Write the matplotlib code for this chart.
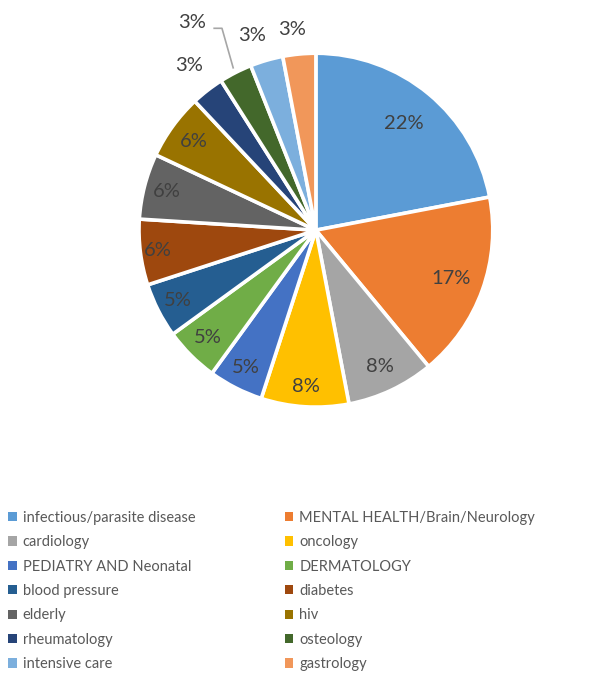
import numpy as np
import matplotlib.pyplot as plt
from matplotlib.patches import Patch

plt.rcParams['font.family'] = ['Lato', 'DejaVu Sans']

categories = [
    "infectious/parasite disease", "MENTAL HEALTH/Brain/Neurology",
    "cardiology", "oncology",
    "PEDIATRY AND Neonatal", "DERMATOLOGY",
    "blood pressure", "diabetes",
    "elderly", "hiv",
    "rheumatology", "osteology",
    "intensive care", "gastrology",
]
shares = [22, 17, 8, 8, 5, 5, 5, 6, 6, 6, 3, 3, 3, 3]
colors = [
    "#5B9BD5", "#ED7D31", "#A5A5A5", "#FFC000", "#4472C4", "#70AD47",
    "#255E91", "#9E480E", "#636363", "#997300", "#264478", "#43682B",
    "#7CAFDD", "#F1975A",
]

fig = plt.figure(figsize=(6.11, 6.74), dpi=100)
ax = fig.add_axes([0.2275, 0.396, 0.579, 0.525])
wedges, _ = ax.pie(shares, colors=colors, startangle=90, counterclock=False,
                   radius=1.0, wedgeprops=dict(edgecolor="white", linewidth=2.6))
ax.set_xlim(-1, 1)
ax.set_ylim(-1, 1)
ax.set_aspect("auto")
ax.axis("off")

label_color = "#404040"
# labels sit near the inner end of each wedge; narrow wedges push them outward
label_r = [0.78, 0.81, 0.85, 0.885, 0.87, 0.86, 0.875, 0.90, 0.87, 0.85]
# small slices at the top get their labels pulled outside the pie
outside = {10: (-0.717, 0.932), 11: (-0.70, 1.175), 12: (-0.36, 1.10), 13: (-0.136, 1.136)}
for i, (w, v) in enumerate(zip(wedges, shares)):
    mid = np.deg2rad((w.theta1 + w.theta2) / 2)
    if i in outside:
        x, y = outside[i]
    else:
        x, y = label_r[i] * np.cos(mid), label_r[i] * np.sin(mid)
    ax.text(x, y, f"{v}%", ha="center", va="center", fontsize=14.5,
            color=label_color, clip_on=False)

# leader line for the osteology label
mid = np.deg2rad((wedges[11].theta1 + wedges[11].theta2) / 2)
ax.plot([-0.575, -0.531, 1.03 * np.cos(mid)], [1.141, 1.141, 1.03 * np.sin(mid)],
        color="#A6A6A6", lw=1.2, clip_on=False)

handles = [Patch(facecolor=c, edgecolor="none") for c in colors]
for col, x0 in [(0, 0.013), (1, 0.466)]:
    idx = list(range(col, len(categories), 2))
    leg = fig.legend([handles[i] for i in idx], [categories[i] for i in idx],
                     loc="upper left", bbox_to_anchor=(x0, 0.242), frameon=False,
                     fontsize=10.5, handlelength=0.6, handleheight=0.6,
                     handletextpad=0.4, labelspacing=0.71, borderpad=0,
                     borderaxespad=0)
    for t in leg.get_texts():
        t.set_color("#595959")

fig.savefig("out.png", dpi=100, facecolor="white")
